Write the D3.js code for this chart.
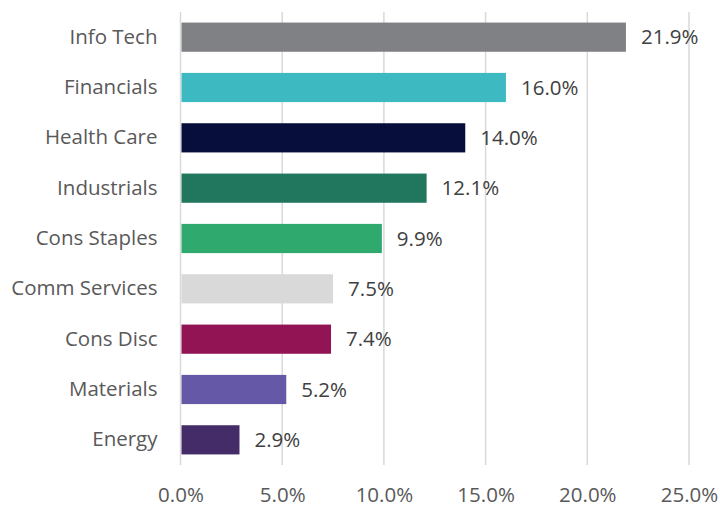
<!DOCTYPE html>
<html>
<head>
<meta charset="utf-8">
<script src="https://cdn.jsdelivr.net/npm/d3@7"></script>
<style>
  body { margin: 0; background: #fff; }
  svg text { font-family: "Open Sans", sans-serif; }
</style>
</head>
<body>
<svg id="chart" width="720" height="508"></svg>
<script>
// Sector weights - horizontal bar chart
const sectors = ['Info Tech', 'Financials', 'Health Care', 'Industrials', 'Cons Staples',
  'Comm Services', 'Cons Disc', 'Materials', 'Energy'];
const weights = [21.9, 16.0, 14.0, 12.1, 9.9, 7.5, 7.4, 5.2, 2.9];
const barColors = ['#808184', '#3db9c1', '#070e3c', '#21765e', '#30a96e',
  '#d9d9d9', '#921455', '#6558a6', '#442c68'];
const xTicks = [0, 5, 10, 15, 20, 25];

const svg = d3.select('#chart');
const margin = { top: 12, right: 31, bottom: 43, left: 180.5 };
const width = 720 - margin.left - margin.right;
const height = 508 - margin.top - margin.bottom;
const g = svg.append('g').attr('transform', `translate(${margin.left},${margin.top})`);

const data = sectors.map((s, i) => ({ sector: s, value: weights[i], color: barColors[i] }));

const xScale = d3.scaleLinear().domain([0, 25]).range([0, width]);
const yScale = d3.scaleBand()
  .domain(sectors)
  .range([0, height])
  .paddingInner(0.42)
  .paddingOuter(0.21);

// gridlines
g.selectAll('.grid')
  .data(xTicks)
  .enter().append('line')
  .attr('class', 'grid')
  .attr('x1', d => xScale(d))
  .attr('x2', d => xScale(d))
  .attr('y1', 0)
  .attr('y2', height)
  .attr('stroke', '#d9d9d9')
  .attr('stroke-width', 1.5);

// x axis labels
const xAxis = g.append('g')
  .attr('transform', `translate(0,${height})`)
  .call(d3.axisBottom(xScale).tickValues(xTicks).tickFormat(d => d.toFixed(1) + '%').tickSize(0).tickPadding(22));
xAxis.select('.domain').remove();
xAxis.selectAll('text')
  .style('font-size', '20.5px')
  .style('font-family', '"Open Sans", sans-serif')
  .attr('fill', '#595959');

// y axis labels
const yAxis = g.append('g')
  .call(d3.axisLeft(yScale).tickSize(0).tickPadding(23));
yAxis.select('.domain').remove();
yAxis.selectAll('text')
  .style('font-size', '20.5px')
  .style('font-family', '"Open Sans", sans-serif')
  .attr('fill', '#595959');

// bars
g.selectAll('.bar')
  .data(data)
  .enter().append('rect')
  .attr('class', 'bar')
  .attr('x', xScale(0) + 1)
  .attr('y', d => yScale(d.sector))
  .attr('width', d => xScale(d.value) - xScale(0) - 1)
  .attr('height', yScale.bandwidth())
  .attr('fill', d => d.color);

// value labels
g.selectAll('.bar-label')
  .data(data)
  .enter().append('text')
  .attr('class', 'bar-label')
  .attr('x', d => xScale(d.value) + 15)
  .attr('y', d => yScale(d.sector) + yScale.bandwidth() / 2)
  .attr('dy', '0.35em')
  .style('font-size', '20.5px')
  .attr('fill', '#404040')
  .text(d => d.value.toFixed(1) + '%');
</script>
</body>
</html>
